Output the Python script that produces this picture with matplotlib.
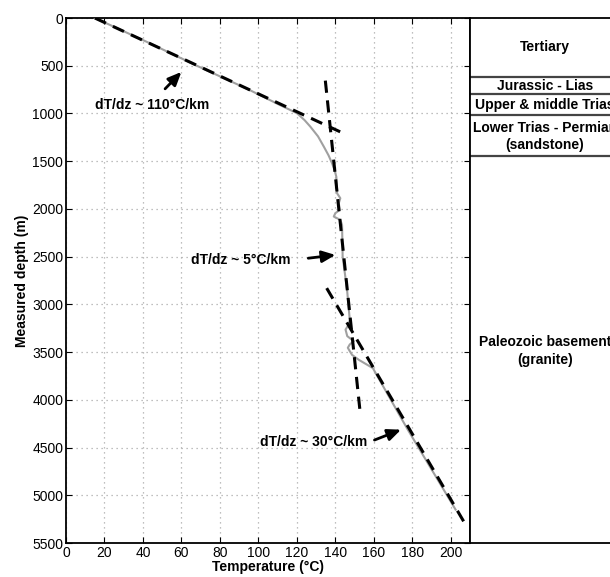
import numpy as np
import matplotlib.pyplot as plt

plt.rcParams['font.family'] = ['Liberation Sans', 'DejaVu Sans']

# measured temperature log (gray curve)
depth_log = [0, 250, 500, 750, 900, 998, 1070, 1138, 1240, 1347, 1440, 1522,
             1600, 1662, 1750, 1836, 1888, 1940, 2010, 2045, 2080, 2115, 2168,
             2500, 2848, 3162, 3211, 3264, 3333, 3386, 3420, 3455, 3490, 3529,
             3581, 3668, 4307, 5150]
temp_log = [15, 42, 68, 95, 110, 120.1, 124, 127, 131, 134, 136.5, 138.3,
            139.7, 140.5, 140.8, 140.9, 142.6, 141.8, 142.3, 140, 139.2, 142.6, 143.5,
            143.8, 146.1, 147.5, 147.0, 145.3, 146.2, 149.6, 147.5, 146.5, 147.5, 148.7,
            152.2, 159.5, 177.5, 202.5]

# gradient fits (dashed lines)
fit_110_T = [15, 146]
fit_110_z = [0, 1225]
fit_5_T = [134.8, 153]
fit_5_z = [656, 4150]
fit_30_T = [135.5, 208.5]
fit_30_z = [2830, 5335]

# stratigraphy
strata_tops = [620, 795, 1015, 1443]
strata_names = ['Tertiary', 'Jurassic - Lias', 'Upper & middle Trias',
                'Lower Trias - Permian\n(sandstone)', 'Paleozoic basement\n(granite)']
strata_label_z = [303, 711, 907, 1238, 3490]

fig = plt.figure(figsize=(6.1, 5.77), dpi=100)
ax = fig.add_axes([66/610, 1-543/577, (470-66)/610, (543-18)/577])
ax2 = fig.add_axes([470/610, 1-543/577, 150/610, (543-18)/577])

ax.plot(temp_log, depth_log, color='#a0a0a0', lw=1.5, zorder=3)
dash = (0, (4, 2.5))
for T, z in [(fit_110_T, fit_110_z), (fit_5_T, fit_5_z), (fit_30_T, fit_30_z)]:
    ax.plot(T, z, color='black', lw=2.2, linestyle=dash, zorder=4)

ax.set_xlim(0, 210)
ax.set_ylim(5500, 0)
ax.set_xticks(np.arange(0, 201, 20))
ax.set_yticks(np.arange(0, 5501, 500))
ax.tick_params(direction='in', top=True, right=True, labelsize=10, length=4, pad=2)
ax.grid(True, color='#aaaaaa', linestyle=(0, (1, 3)), lw=0.9)
ax.set_xlabel('Temperature (°C)', fontweight='bold', fontsize=10, labelpad=0)
ax.set_ylabel('Measured depth (m)', fontweight='bold', fontsize=10, labelpad=2)
for s in ax.spines.values():
    s.set_linewidth(1.3)

arrow = dict(arrowstyle='-|>,head_length=0.8,head_width=0.35', color='black', lw=2)
ax.annotate('', xy=(61, 544), xytext=(50.5, 763), arrowprops=arrow)
ax.text(45, 910, 'dT/dz ~ 110°C/km', ha='center', va='center', fontsize=10, fontweight='bold')
ax.annotate('', xy=(141.5, 2479), xytext=(124.5, 2520), arrowprops=arrow)
ax.text(90.6, 2531, 'dT/dz ~ 5°C/km', ha='center', va='center', fontsize=10, fontweight='bold')
ax.annotate('', xy=(175.5, 4302), xytext=(159, 4432), arrowprops=arrow)
ax.text(128.6, 4446, 'dT/dz ~ 30°C/km', ha='center', va='center', fontsize=10, fontweight='bold')

ax2.set_xlim(0, 1)
ax2.set_ylim(5500, 0)
ax2.set_xticks([])
ax2.set_yticks([])
for s in ax2.spines.values():
    s.set_linewidth(1.3)
for z in strata_tops:
    ax2.axhline(z, color='#444444', lw=1.6)
for name, z in zip(strata_names, strata_label_z):
    ax2.text(0.5, z, name, ha='center', va='center', fontsize=10, fontweight='bold',
             linespacing=1.3)

fig.savefig('out.png', dpi=100)
